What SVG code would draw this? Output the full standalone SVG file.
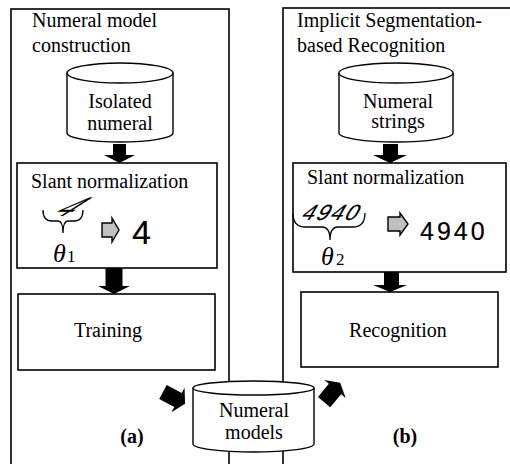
<svg xmlns="http://www.w3.org/2000/svg" width="510" height="464" viewBox="0 0 510 464">
<style>
.box{fill:none;stroke:#000;stroke-width:1.6}
.cyl{fill:#fff;stroke:#000;stroke-width:1.4}
.t{font-family:"Liberation Serif","Times New Roman",serif;font-size:20px;fill:#000}
.c{text-anchor:middle}
.b{font-weight:bold}
.hw{font-family:"Liberation Sans",Arial,sans-serif;fill:#000;stroke:#000;stroke-width:0.2}
.ar{fill:#000;stroke:none}
.ga{fill:#c0c0c0;stroke:#000;stroke-width:1.4}
.br{fill:none;stroke:#000;stroke-width:1.3}
.th{font-family:"Liberation Serif","Times New Roman",serif;fill:#000}
</style>
<rect width="510" height="464" fill="#fff"/>

<g id="panel-a">
<rect class="box" x="11" y="9" width="218" height="480"/>
<text class="t" x="32" y="27">Numeral model</text>
<text class="t" x="32" y="52">construction</text>
<text class="t b c" x="132" y="443">(a)</text>
</g>

<g id="panel-b">
<rect class="box" x="283" y="8" width="240" height="480"/>
<text class="t" x="297" y="27">Implicit Segmentation-</text>
<text class="t" x="297" y="52">based Recognition</text>
<text class="t b c" x="405" y="443">(b)</text>
</g>

<g id="isolated-numeral">
<path class="cyl" d="M67,73 L67,133 A53,9 0 0 0 173,133 L173,73"/>
<ellipse class="cyl" cx="120" cy="73" rx="53" ry="10"/>
<text class="t c" x="120" y="108">Isolated</text>
<text class="t c" x="120" y="130">numeral</text>
</g>

<g id="slant-a">
<rect class="box" x="17" y="163" width="200" height="105"/>
<text class="t" x="31" y="188">Slant normalization</text>
<text class="hw" font-size="30" stroke-width="0.8" transform="translate(50,216) scale(1,0.9) skewX(-55)">4</text>
<path class="br" d="M43,210 Q43,221 52,221 L58,221 Q63,221 63,233 Q63,221 68,221 L74,221 Q83,221 83,210"/>
<text class="th" x="53" y="262" font-size="26" font-style="italic">θ</text>
<text class="th" x="67" y="262" font-size="17">1</text>
<path class="ga" d="M102,223 L112,223 L112,218 L119,230 L112,242 L112,237 L102,237 Z"/>
<text class="hw" font-size="34" x="132" y="244">4</text>
</g>

<g id="training">
<rect class="box" x="18" y="294" width="197" height="76"/>
<text class="t c" x="108" y="337">Training</text>
</g>

<g id="numeral-strings">
<path class="cyl" d="M339,73 L339,133 A57,9 0 0 0 453,133 L453,73"/>
<ellipse class="cyl" cx="396" cy="73" rx="57" ry="10"/>
<text class="t c" x="398" y="108">Numeral</text>
<text class="t c" x="398" y="128">strings</text>
</g>

<g id="slant-b">
<rect class="box" x="293" y="163" width="213" height="109"/>
<text class="t" x="307" y="184">Slant normalization</text>
<text class="hw" font-size="22" letter-spacing="2" transform="translate(300,220) skewX(-30)">4940</text>
<path class="br" d="M293,213 Q293,227 305,227 L322,227 Q330,227 330,240 Q330,227 338,227 L353,227 Q365,227 365,213"/>
<text class="th" x="321" y="265" font-size="26" font-style="italic">θ</text>
<text class="th" x="336" y="265" font-size="17">2</text>
<path class="ga" d="M388,217 L400,217 L400,213 L408,224 L400,235 L400,231 L388,231 Z"/>
<text class="hw" font-size="25" letter-spacing="3" x="420" y="240">4940</text>
</g>

<g id="recognition">
<rect class="box" x="301" y="292" width="197" height="75"/>
<text class="t c" x="398" y="337">Recognition</text>
</g>

<g id="numeral-models">
<path class="cyl" d="M193,388 L193,444 A60.5,8 0 0 0 314,444 L314,388"/>
<ellipse class="cyl" cx="253.5" cy="388" rx="60.5" ry="7"/>
<text class="t c" x="254" y="417" font-size="19">Numeral</text>
<text class="t c" x="254" y="439" font-size="19">models</text>
</g>

<g id="connectors">
<path class="ar" d="M113,144 L126,144 L126,155 L135,155 L119.5,163 L104,155 L113,155 Z"/>
<path class="ar" d="M105.5,268 L122.5,268 L122.5,286 L130,286 L114,294 L98,286 L105.5,286 Z"/>
<path class="ar" d="M383,144 L398,144 L398,155 L407,155 L390,163 L373,155 L383,155 Z"/>
<path class="ar" d="M384,272 L399,272 L399,285 L407,285 L390,292 L373,285 L384,285 Z"/>
<path class="ar" transform="translate(178,400) rotate(-62)" d="M-8,-17 L8,-17 L8,0 L14,0 L0,8 L-14,0 L-8,0 Z"/>
<path class="ar" transform="translate(335,389) rotate(-140)" d="M-8,-17 L8,-17 L8,0 L14,0 L0,8 L-14,0 L-8,0 Z"/>
</g>
</svg>
